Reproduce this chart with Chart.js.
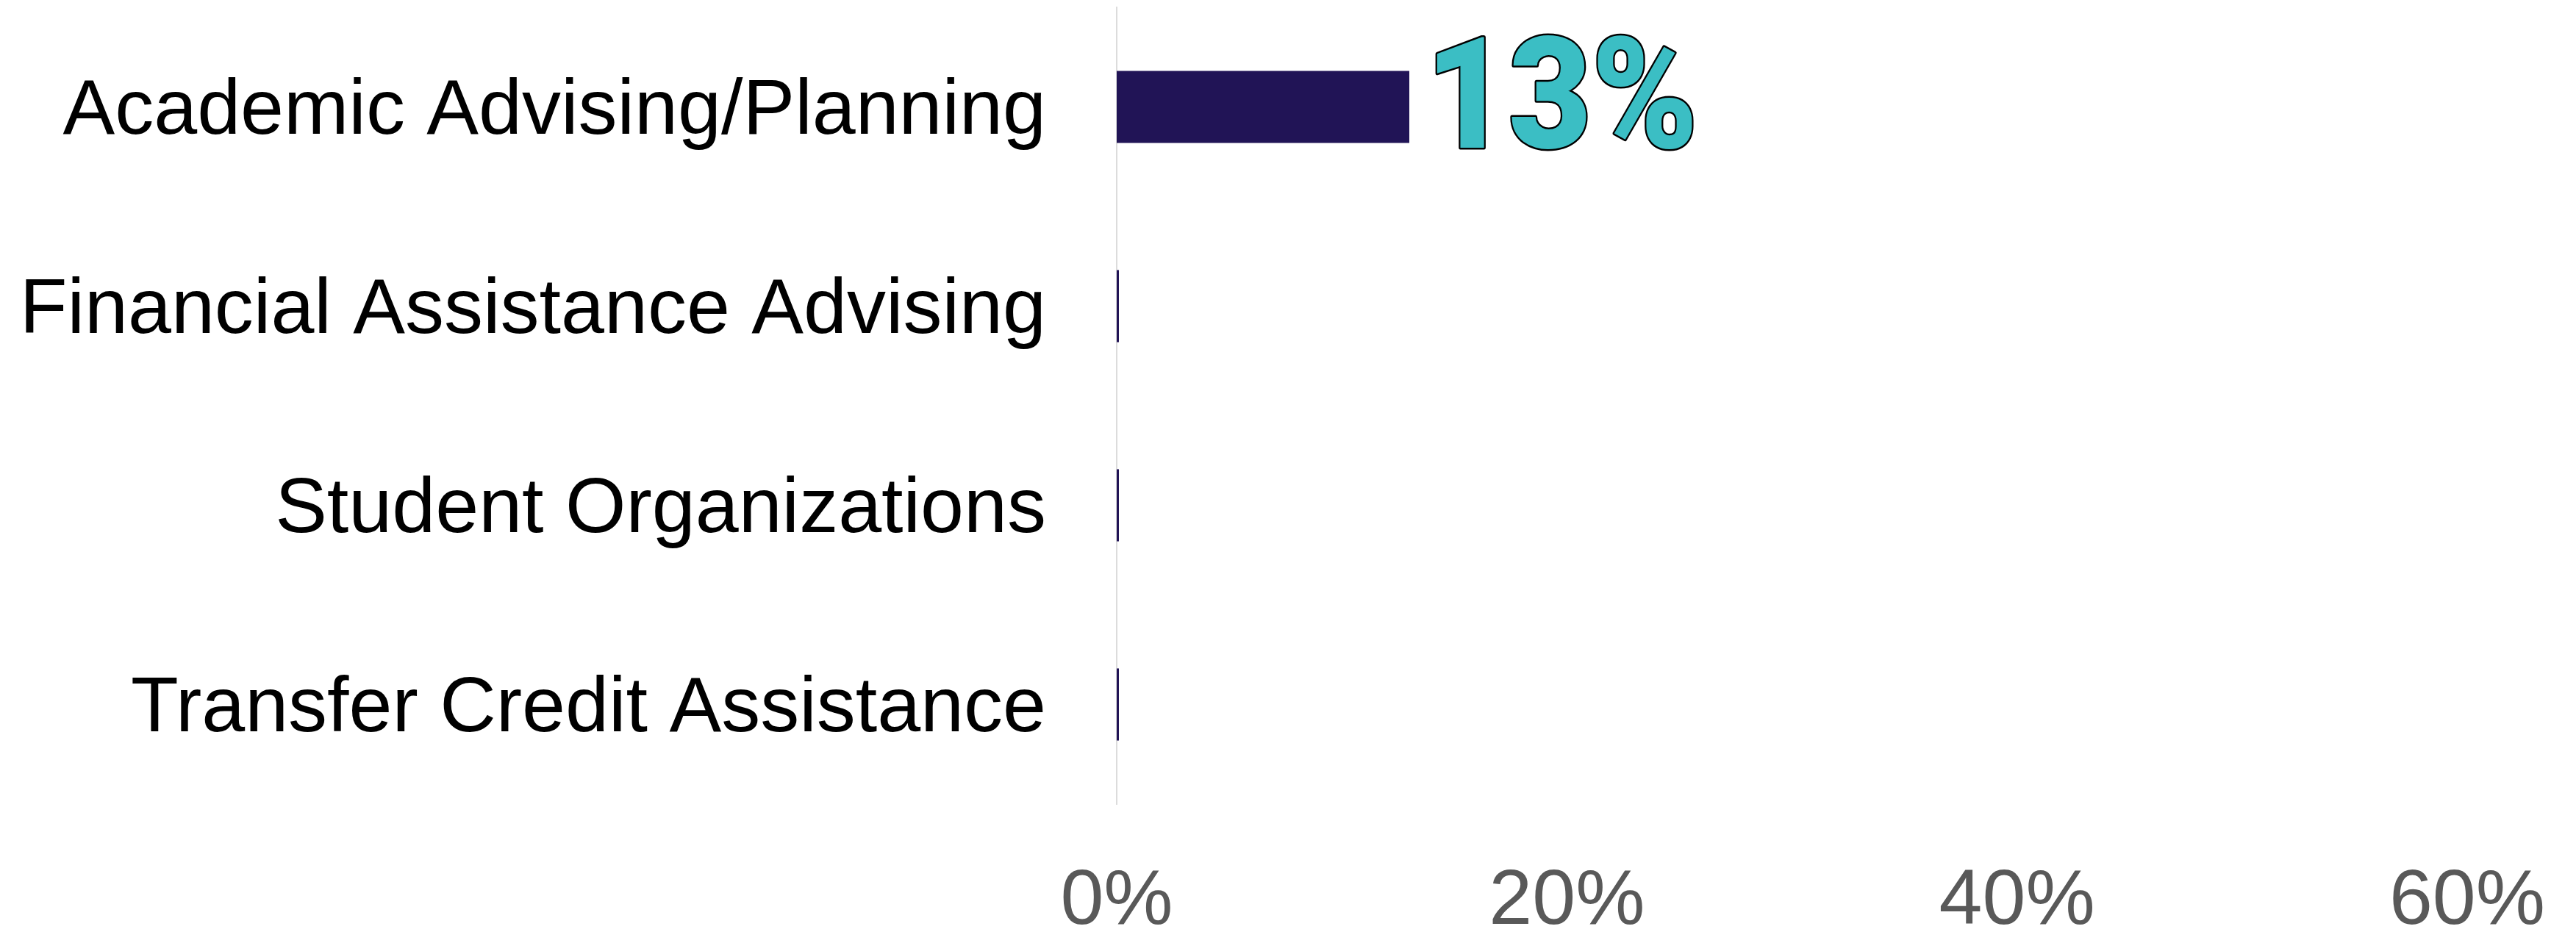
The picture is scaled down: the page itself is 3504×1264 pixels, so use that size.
<!DOCTYPE html>
<html>
<head>
<meta charset="utf-8">
<title>Services Used</title>
<script src="https://cdn.jsdelivr.net/npm/chart.js@4/dist/chart.umd.min.js"></script>
<style>
  html, body { margin: 0; padding: 0; background: #ffffff; }
  #wrap { width: 3504px; height: 1264px; position: relative; }
</style>
</head>
<body>
<div id="wrap"><canvas id="chart" width="3504" height="1264"></canvas></div>
<script>
// Services and the share of respondents who used each one (percent)
const categories = [
  'Academic Advising/Planning',
  'Financial Assistance Advising',
  'Student Organizations',
  'Transfer Credit Assistance'
];
const shares = [13, 0, 0, 0];
const tickValues = [0, 20, 40, 60];

const BAR_COLOR = '#211456';
const LABEL_FILL = '#3bbec4';
const TICK_COLOR = '#595959';

// Big outlined value label to the right of each non-zero bar
const valueLabels = {
  id: 'valueLabels',
  afterDatasetsDraw(chart) {
    const { ctx } = chart;
    const meta = chart.getDatasetMeta(0);
    meta.data.forEach((bar, i) => {
      const v = chart.data.datasets[0].data[i];
      if (!v) return;
      const text = v + '%';
      const props = bar.getProps(['x', 'y', 'height'], true);
      const bottom = props.y + props.height / 2;
      ctx.save();
      ctx.translate(props.x + 22, bottom + 6);
      ctx.scale(0.92, 1);
      ctx.font = '900 212px Roboto, "Liberation Sans", sans-serif';
      ctx.textAlign = 'left';
      ctx.textBaseline = 'alphabetic';
      ctx.lineJoin = 'round';
      ctx.lineWidth = 5;
      ctx.strokeStyle = '#000000';
      ctx.strokeText(text, 0, 0);
      ctx.fillStyle = LABEL_FILL;
      ctx.fillText(text, 0, 0);
      ctx.restore();
    });
  }
};

new Chart(document.getElementById('chart'), {
  type: 'bar',
  data: {
    labels: categories,
    datasets: [{
      data: shares,
      backgroundColor: BAR_COLOR,
      borderWidth: 0,
      minBarLength: 3,
      categoryPercentage: 1,
      barPercentage: 0.362
    }]
  },
  options: {
    indexAxis: 'y',
    responsive: false,
    animation: false,
    devicePixelRatio: 1,
    layout: { padding: { top: 10, right: 148, left: 0, bottom: 0 } },
    plugins: {
      legend: { display: false },
      tooltip: { enabled: false }
    },
    scales: {
      x: {
        min: 0,
        max: 60,
        afterBuildTicks(scale) {
          scale.ticks = tickValues.map(v => ({ value: v }));
        },
        afterFit(scale) {
          scale.height = 170;
          scale.paddingLeft = 0;
          scale.paddingRight = 0;
        },
        grid: { display: false, drawTicks: false },
        border: { display: false },
        ticks: {
          color: TICK_COLOR,
          padding: 70,
          maxRotation: 0,
          autoSkip: false,
          font: { family: '"Liberation Sans", Arial, sans-serif', size: 106 },
          callback: v => v + '%'
        }
      },
      y: {
        afterFit(scale) {
          scale.width = 1519;
          scale.paddingTop = 0;
          scale.paddingBottom = 0;
        },
        grid: { display: false, drawTicks: false },
        border: { display: true, color: '#dcdcdc', width: 2 },
        ticks: {
          color: '#000000',
          padding: 96,
          labelOffset: 7,
          autoSkip: false,
          font: { family: '"Liberation Sans", Arial, sans-serif', size: 106 }
        }
      }
    }
  },
  plugins: [valueLabels]
});
</script>
</body>
</html>
